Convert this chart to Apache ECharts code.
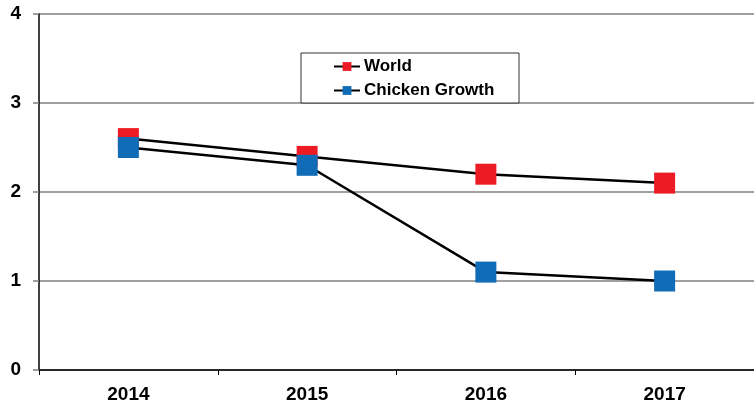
<!DOCTYPE html>
<html>
<head>
<meta charset="utf-8">
<script src="https://cdn.jsdelivr.net/npm/echarts@6/dist/echarts.min.js"></script>
<style>
	html, body { margin: 0; padding: 0; background: #fff; }
	#chart { width: 754px; height: 408px; }
</style>
</head>
<body>
<div id="chart"></div>
<script>
const categories = ['2014', '2015', '2016', '2017']
const world = [2.6, 2.4, 2.2, 2.1]
const chickenGrowth = [2.5, 2.3, 1.1, 1.0]
const yTicks = [0, 1, 2, 3, 4]

const chart = echarts.init(document.getElementById('chart'))

const font = '"Liberation Sans", Arial, sans-serif'

const option = {
	backgroundColor: '#fff',
	animation: false,
	grid: { left: 39, right: 0, top: 14, bottom: 38 },
	graphic: [
		{
			type: 'rect',
			shape: { x: 301, y: 53, width: 218, height: 50 },
			style: { fill: '#fff', stroke: '#333', lineWidth: 1 },
			z: 10
		}
	],
	legend: {
		orient: 'vertical',
		left: 333,
		top: 58,
		padding: 0,
		itemWidth: 26,
		itemHeight: 11,
		itemGap: 7,
		z: 11,
		lineStyle: { width: 2, color: '#000' },
		textStyle: { fontFamily: font, fontWeight: 'bold', fontSize: 17, color: '#000', padding: [0, 0, 0, -1] },
		data: ['World', 'Chicken Growth']
	},
	xAxis: {
		type: 'category',
		data: categories,
		boundaryGap: true,
		axisLine: { lineStyle: { color: '#000', width: 1.5 } },
		axisTick: { show: true, length: 5, lineStyle: { color: '#000' } },
		axisLabel: { fontFamily: font, fontWeight: 'bold', fontSize: 19, color: '#000', margin: 15 }
	},
	yAxis: {
		type: 'value',
		min: yTicks[0],
		max: yTicks[yTicks.length - 1],
		interval: 1,
		axisLine: { show: true, lineStyle: { color: '#000', width: 1.5 } },
		axisTick: { show: true, length: 6, lineStyle: { color: '#808080', width: 1.5 } },
		axisLabel: { fontFamily: font, fontWeight: 'bold', fontSize: 19, color: '#000', margin: 18 },
		splitLine: { lineStyle: { color: '#808080', width: 1.5 } }
	},
	series: [
		{
			name: 'World',
			type: 'line',
			data: world,
			symbol: 'rect',
			symbolSize: 21,
			itemStyle: { color: '#ed1c24' },
			lineStyle: { color: '#000', width: 2.5 },
			z: 2
		},
		{
			name: 'Chicken Growth',
			type: 'line',
			data: chickenGrowth,
			symbol: 'rect',
			symbolSize: 21,
			itemStyle: { color: '#106cb6' },
			lineStyle: { color: '#000', width: 2.5 },
			z: 3
		}
	]
}

chart.setOption(option)
</script>
</body>
</html>
